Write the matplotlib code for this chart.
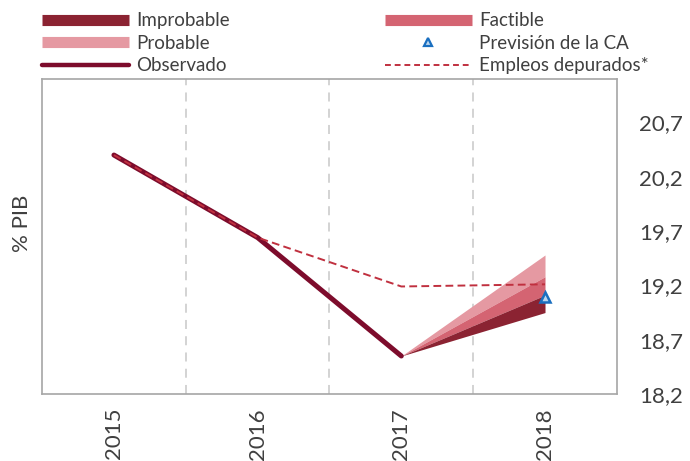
import numpy as np
import matplotlib.pyplot as plt
from matplotlib.lines import Line2D

plt.rcParams['font.family'] = ['Lato', 'DejaVu Sans']

years = ['2015', '2016', '2017', '2018']
observado = [20.40, 19.64, 18.55]
depurados = [20.40, 19.64, 19.19, 19.21]
prevision_ca = 19.09
# fan at 2018, bands from bottom to top
fan_start = 18.55
improbable = (18.95, 19.11)
factible = (19.11, 19.28)
probable = (19.28, 19.48)
yticks = [18.2, 18.7, 19.2, 19.7, 20.2, 20.7]

c_impro = '#8b2332'
c_fact = '#d46472'
c_prob = '#e599a2'
c_obs = '#7d0c2c'
c_dep = '#c0303f'
c_ca = '#1a6fc0'
txt = '#404040'

fig = plt.figure(figsize=(6.9, 4.61), dpi=100)
ax = fig.add_axes([0.061, 0.1453, 0.833, 0.6833])

x = np.arange(len(years))
xf = [x[2], x[3]]
for (lo, hi), col in [(probable, c_prob), (factible, c_fact), (improbable, c_impro)]:
    ax.fill_between(xf, [fan_start, lo], [fan_start, hi], color=col, lw=0, zorder=2.5)

ax.plot(x[:3], observado, color=c_obs, lw=3.6, solid_capstyle='round', zorder=3)
ax.plot(x, depurados, color=c_dep, lw=1.4, ls=(0, (4, 2.2)), zorder=4)
ax.plot(x[3], prevision_ca, marker='^', ms=7, mfc='#bcd6ee', mec=c_ca, mew=1.8,
        ls='none', zorder=5)

for v in [0.5, 1.5, 2.5]:
    ax.axvline(v, color='#d0d0d0', lw=1.3, ls=(0, (5, 4)), zorder=1)

ax.set_xlim(-0.5, 3.5)
ax.set_ylim(18.2, 21.1)
ax.set_xticks(x)
ax.set_xticklabels(years, rotation=90, fontsize=16, color=txt)
ax.yaxis.tick_right()
ax.set_yticks(yticks)
ax.set_yticklabels([f'{v:.1f}'.replace('.', ',') for v in yticks], fontsize=16, color=txt)
ax.tick_params(length=0, pad=10)
ax.tick_params(axis='y', pad=16)
for s in ax.spines.values():
    s.set_color('#a6a6a6')
    s.set_linewidth(1.2)
fig.text(0.032, 0.515, '% PIB', rotation=90, ha='center', va='center',
         fontsize=16, color=txt)

handles = [
    Line2D([], [], color=c_impro, lw=8, solid_capstyle='butt'),
    Line2D([], [], color=c_prob, lw=8, solid_capstyle='butt'),
    Line2D([], [], color=c_obs, lw=3.2, solid_capstyle='round'),
    Line2D([], [], color=c_fact, lw=8, solid_capstyle='butt'),
    Line2D([], [], marker='^', ms=6, mfc='#bcd6ee', mec=c_ca, mew=1.6, ls='none'),
    Line2D([], [], color=c_dep, lw=1.4, ls=(0, (3, 2))),
]
labels = ['Improbable', 'Probable', 'Observado', 'Factible',
          'Previsión de la CA', 'Empleos depurados*']
leg = fig.legend(handles, labels, ncol=2, loc='upper left',
                 bbox_to_anchor=(0.045, 0.998), frameon=False, fontsize=13.5,
                 handlelength=4.6, handletextpad=0.4, columnspacing=8.3,
                 labelspacing=0.3, borderaxespad=0.2)
for t in leg.get_texts():
    t.set_color(txt)

fig.savefig('out.png', dpi=100)
